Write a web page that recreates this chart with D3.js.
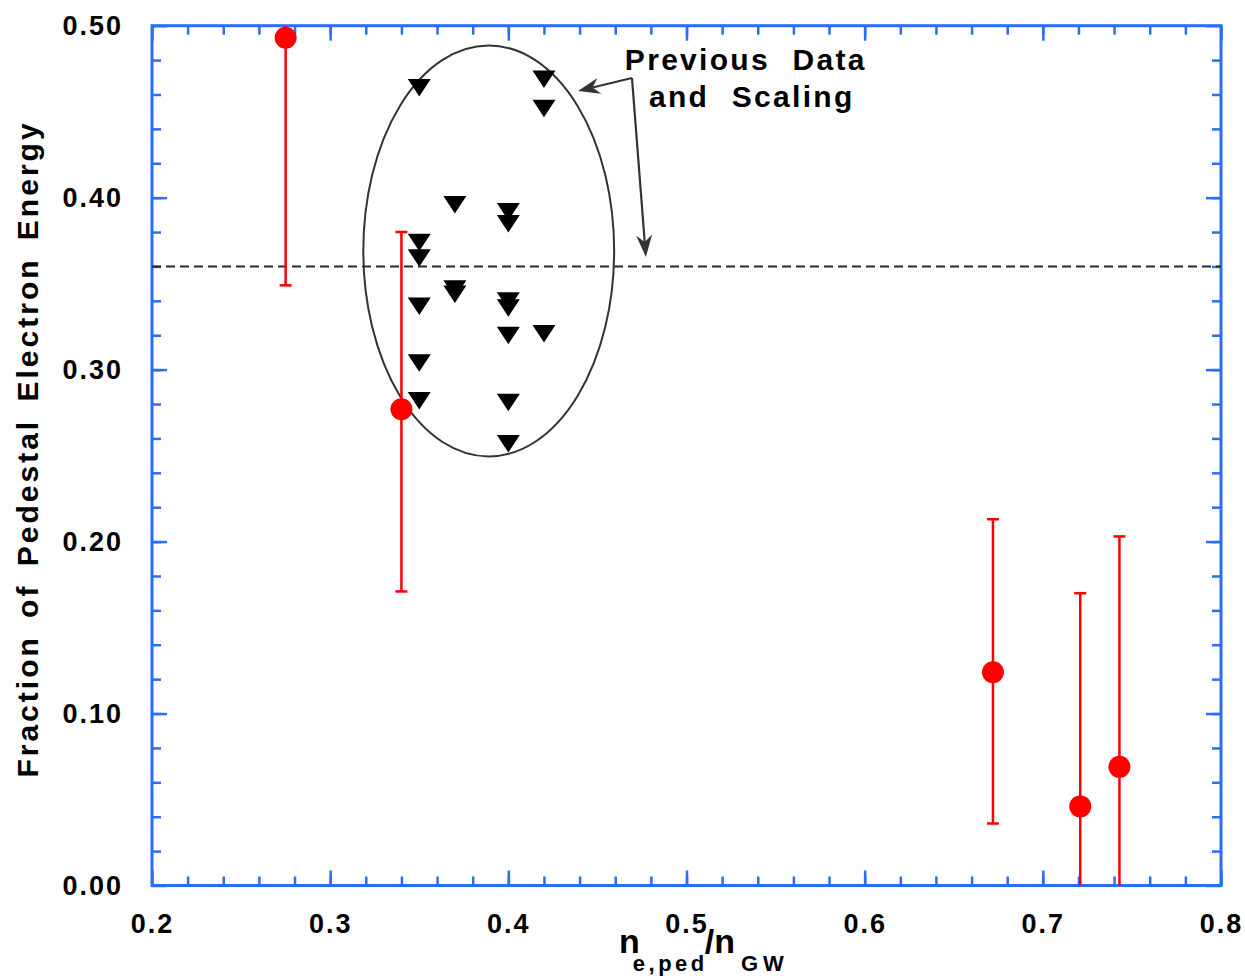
<!DOCTYPE html>
<html>
<head>
<meta charset="utf-8">
<script src="https://cdn.jsdelivr.net/npm/d3@7"></script>
<style>
  body { margin: 0; background: #fff; }
  text { font-family: "Liberation Sans", Arial, Helvetica, sans-serif; font-weight: bold; fill: #000; }
</style>
</head>
<body>
<script>
// new measurements (red, with error bars)
const newX = [0.275, 0.340, 0.672, 0.721, 0.743];
const newY = [0.493, 0.277, 0.124, 0.046, 0.069];
const newLo = [0.349, 0.171, 0.036, -0.078, -0.065];
const newHi = [0.637, 0.380, 0.213, 0.170, 0.203];

// previous data (black down triangles)
const prevX = [0.35, 0.35, 0.35, 0.35, 0.35, 0.35,
               0.37, 0.37, 0.37,
               0.40, 0.40, 0.40, 0.40, 0.40, 0.40, 0.40,
               0.42, 0.42, 0.42];
const prevY = [0.464, 0.374, 0.365, 0.337, 0.304, 0.282,
               0.396, 0.347, 0.344,
               0.392, 0.385, 0.340, 0.336, 0.320, 0.281, 0.257,
               0.469, 0.452, 0.321];

// previous scaling level
const scalingLevel = 0.36;

// ellipse around previous data (centre, radii in data units)
const ellipseC = [0.389, 0.369];
const ellipseR = [0.0704, 0.1195];

// annotation
const noteLines = ["Previous Data", "and Scaling"];
const noteStart = [[0.4654, 0.4742], [0.4789, 0.4527]];
const arrowFrom = [0.4694, 0.4696];
const arrowTo = [[0.4391, 0.4620], [0.4772, 0.3655]];

// ticks
const xTicks = [0.2, 0.3, 0.4, 0.5, 0.6, 0.7, 0.8];
const yTicks = [0.0, 0.1, 0.2, 0.3, 0.4, 0.5];
const xMinor = d3.range(0.22, 0.8, 0.02);
const yMinor = d3.range(0.02, 0.5, 0.02);

const W = 1245, H = 976;
const margin = {top: 25.7, right: 24, bottom: 90.5, left: 152};
const width = W - margin.left - margin.right,
      height = H - margin.top - margin.bottom;

const blue = "#2a6ef8";

const svg = d3.select("body").append("svg")
    .attr("width", W)
    .attr("height", H);

const g = svg.append("g")
    .attr("transform", `translate(${margin.left},${margin.top})`);

const x = d3.scaleLinear().domain([0.2, 0.8]).range([0, width]);
const y = d3.scaleLinear().domain([0, 0.5]).range([height, 0]);

svg.append("defs").append("clipPath").attr("id", "clip")
  .append("rect").attr("width", width).attr("height", height);

// axes: major ticks + labels
function styleAxis(sel) {
    sel.select(".domain").remove();
    sel.selectAll("line").attr("stroke", blue).attr("stroke-width", 2.5);
    sel.selectAll("text")
        .style("font-size", "27px")
        .style("letter-spacing", "2px")
        .attr("fill", "#000");
}

g.append("g")
    .attr("transform", `translate(0,${height})`)
    .call(d3.axisBottom(x).tickValues(xTicks).tickSize(-15).tickPadding(28).tickFormat(d3.format(".1f")))
    .call(styleAxis);
g.append("g")
    .call(d3.axisLeft(y).tickValues(yTicks).tickSize(-15).tickPadding(29).tickFormat(d3.format(".2f")))
    .call(styleAxis);
g.append("g")
    .call(d3.axisTop(x).tickValues(xTicks).tickSize(-15).tickFormat(""))
    .call(styleAxis);
g.append("g")
    .attr("transform", `translate(${width},0)`)
    .call(d3.axisRight(y).tickValues(yTicks).tickSize(-15).tickFormat(""))
    .call(styleAxis);

// minor ticks
g.append("g").attr("transform", `translate(0,${height})`)
    .call(d3.axisBottom(x).tickValues(xMinor).tickSize(-9).tickFormat("")).call(styleAxis);
g.append("g")
    .call(d3.axisTop(x).tickValues(xMinor).tickSize(-9).tickFormat("")).call(styleAxis);
g.append("g")
    .call(d3.axisLeft(y).tickValues(yMinor).tickSize(-9).tickFormat("")).call(styleAxis);
g.append("g").attr("transform", `translate(${width},0)`)
    .call(d3.axisRight(y).tickValues(yMinor).tickSize(-9).tickFormat("")).call(styleAxis);

// frame
g.append("rect")
    .attr("width", width)
    .attr("height", height)
    .attr("fill", "none")
    .attr("stroke", blue)
    .attr("stroke-width", 3);

// dashed scaling line
g.append("line")
    .attr("x1", x(0.2)).attr("x2", x(0.8))
    .attr("y1", y(scalingLevel)).attr("y2", y(scalingLevel))
    .attr("stroke", "#2a2a2a")
    .attr("stroke-width", 2)
    .attr("stroke-dasharray", "9,5");

// ellipse
g.append("ellipse")
    .attr("cx", x(ellipseC[0]))
    .attr("cy", y(ellipseC[1]))
    .attr("rx", x(ellipseC[0] + ellipseR[0]) - x(ellipseC[0]))
    .attr("ry", y(ellipseC[1] - ellipseR[1]) - y(ellipseC[1]))
    .attr("fill", "none")
    .attr("stroke", "#333")
    .attr("stroke-width", 2);

// previous data triangles
const prev = prevX.map((d, i) => ({x: d, y: prevY[i]}));
g.selectAll(".tri")
    .data(prev)
    .enter()
    .append("path")
    .attr("class", "tri")
    .attr("transform", d => `translate(${x(d.x)},${y(d.y)})`)
    .attr("d", "M-11.5,-8.5L11.5,-8.5L0,9Z")
    .attr("fill", "#000");

// new data with error bars
const pts = newX.map((d, i) => ({x: d, y: newY[i], lo: newLo[i], hi: newHi[i]}));
const eb = g.append("g").attr("clip-path", "url(#clip)");
eb.selectAll(".bar")
    .data(pts)
    .enter()
    .append("line")
    .attr("x1", d => x(d.x)).attr("x2", d => x(d.x))
    .attr("y1", d => y(d.lo)).attr("y2", d => y(d.hi))
    .attr("stroke", "#ff0000")
    .attr("stroke-width", 2.5);
eb.selectAll(".capLo")
    .data(pts)
    .enter()
    .append("line")
    .attr("x1", d => x(d.x) - 6).attr("x2", d => x(d.x) + 6)
    .attr("y1", d => y(d.lo)).attr("y2", d => y(d.lo))
    .attr("stroke", "#ff0000")
    .attr("stroke-width", 2.5);
eb.selectAll(".capHi")
    .data(pts)
    .enter()
    .append("line")
    .attr("x1", d => x(d.x) - 6).attr("x2", d => x(d.x) + 6)
    .attr("y1", d => y(d.hi)).attr("y2", d => y(d.hi))
    .attr("stroke", "#ff0000")
    .attr("stroke-width", 2.5);
g.selectAll(".dot")
    .data(pts)
    .enter()
    .append("circle")
    .attr("cx", d => x(d.x))
    .attr("cy", d => y(d.y))
    .attr("r", 11)
    .attr("fill", "#ff0000");

// annotation arrows
arrowTo.forEach(t => {
    const x0 = x(arrowFrom[0]), y0 = y(arrowFrom[1]);
    const x1 = x(t[0]), y1 = y(t[1]);
    const ang = Math.atan2(y1 - y0, x1 - x0);
    const L = 22, Wd = 8, back = 15;
    g.append("line")
        .attr("x1", x0).attr("y1", y0)
        .attr("x2", x1 - Math.cos(ang) * back).attr("y2", y1 - Math.sin(ang) * back)
        .attr("stroke", "#333").attr("stroke-width", 2.2);
    const p = (a, r) => [x1 + Math.cos(ang) * a - Math.sin(ang) * r, y1 + Math.sin(ang) * a + Math.cos(ang) * r];
    const pts4 = [p(0, 0), p(-L, -Wd), p(-back, 0), p(-L, Wd)];
    g.append("path")
        .attr("d", "M" + pts4.map(q => q.join(",")).join("L") + "Z")
        .attr("fill", "#333");
});

// annotation text
noteLines.forEach((t, i) => {
    g.append("text")
        .attr("x", x(noteStart[i][0]))
        .attr("y", y(noteStart[i][1]))
        .style("font-size", "30px")
        .style("letter-spacing", "2.3px")
        .style("word-spacing", "12px")
        .text(t);
});

// y axis label
svg.append("text")
    .attr("text-anchor", "middle")
    .attr("transform", "translate(38,449) rotate(-90)")
    .style("font-size", "30px")
    .style("letter-spacing", "3px")
    .style("word-spacing", "6px")
    .text("Fraction of Pedestal Electron Energy");

// x axis label
const xl = svg.append("text")
    .attr("x", 619)
    .attr("y", 953)
    .style("font-size", "34px");
xl.append("tspan").text("n");
xl.append("tspan").attr("dx", -7).attr("dy", 18)
    .style("font-size", "22px").style("letter-spacing", "3.5px").text("e,ped");
xl.append("tspan").attr("dx", -3).attr("dy", -18).text("/n");
xl.append("tspan").attr("dx", 6).attr("dy", 18)
    .style("font-size", "22px").style("letter-spacing", "5px").text("GW");
</script>
</body>
</html>
